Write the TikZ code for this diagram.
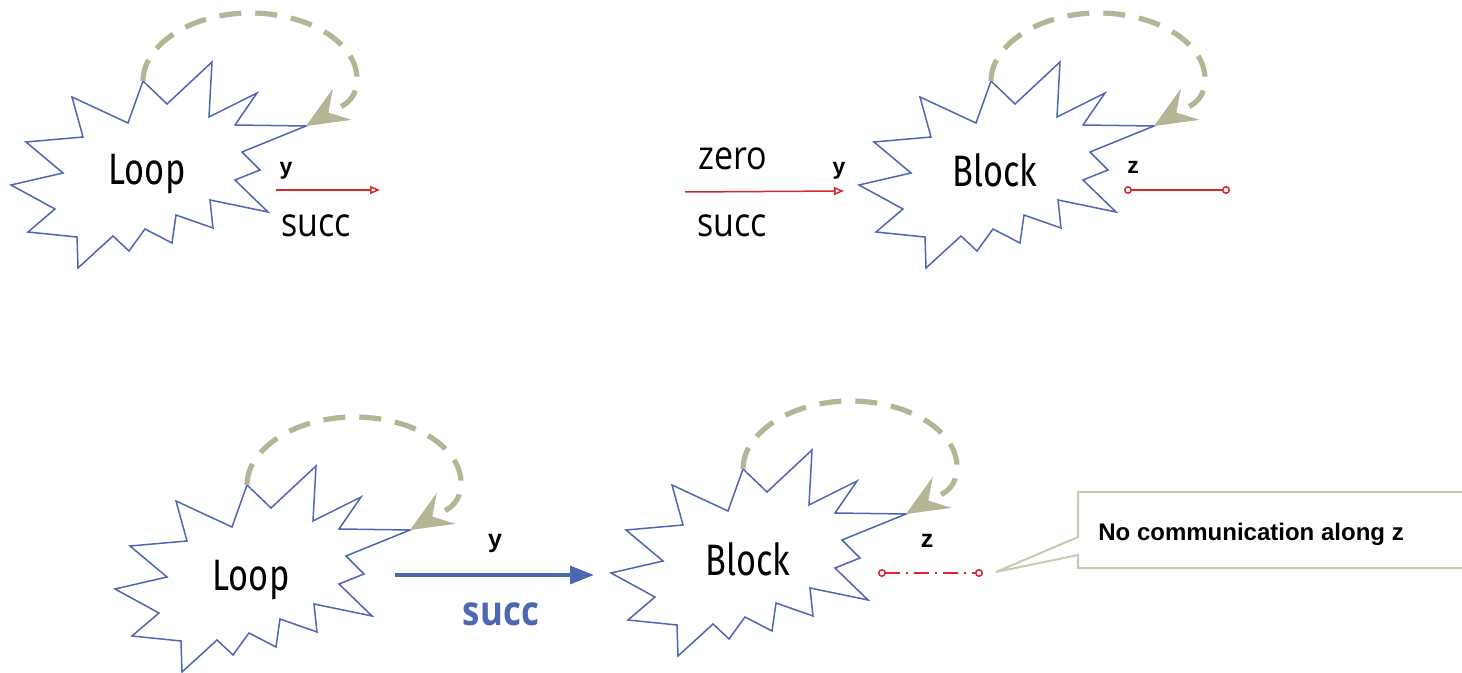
\documentclass[tikz,border=0pt]{standalone}
\usepackage{fontspec}
\usetikzlibrary{arrows.meta}
\setmainfont{Liberation Sans}
\newfontfamily\blockfont[FakeStretch=0.78]{Fira Sans}
\newfontfamily\wordfont[FakeStretch=0.85]{Open Sans}
\definecolor{starblue}{HTML}{4D67B0}
\definecolor{khaki}{HTML}{B5B596}
\definecolor{wire}{HTML}{D7262C}
\definecolor{noteline}{HTML}{C9C9B4}
\tikzset{
  burst/.style={draw=starblue,line width=0.75pt,fill=white,line join=miter},
  blocklabel/.style={font=\blockfont\fontsize{22}{26}\selectfont,anchor=base,inner sep=0pt},
  word/.style={font=\wordfont\fontsize{20}{24}\selectfont,anchor=base,inner sep=0pt},
  chan/.style={font=\bfseries\fontsize{11.5}{14}\selectfont,anchor=base,inner sep=0pt},
  selfloop/.style={draw=khaki,line width=2.6pt,dash pattern=on 11pt off 7pt,-{Stealth[length=21pt,width=18pt,inset=8pt]}},
  send/.style={draw=wire,line width=0.75pt,-{Triangle[open,length=5pt,width=4pt]}},
  idle/.style={draw=wire,line width=0.75pt,{Circle[open,length=4pt]}-{Circle[open,length=4pt]}},
  nolink/.style={idle,dash pattern=on 7.5pt off 3pt on 1pt off 3pt},
  flow/.style={draw=starblue,line width=1.7pt,-{Triangle[length=12pt,width=9pt]}},
  calloutline/.style={draw=noteline,line width=1pt},
}
% explosion outline around a centre, with its top spike and right spike named
\newcommand{\burst}[2]{%
  \draw[burst,shift={(#2)}] (-15,-84) coordinate (#1-peak) -- (9,-61) -- (54,-103) -- (51,-48) -- (99,-72) -- (77,-40)
    -- (148,-39) coordinate (#1-tip) -- (84,-13) -- (102,5) -- (77,15) -- (110,47) -- (52,35) -- (55,63) -- (18,50)
    -- (14,78) -- (-13,64) -- (-29,86) -- (-45,71) -- (-80,103) -- (-81,72) -- (-130,67) -- (-103,44) -- (-147,20)
    -- (-95,8) -- (-132,-23) -- (-75,-28) -- (-86,-68) -- (-30,-42) -- cycle;}
% dashed self loop from the top spike round to the right spike
\newcommand{\spin}[1]{%
  \draw[selfloop] (#1-peak) .. controls +(0,-36) and +(-59,0) .. ++(107,-68)
    .. controls +(59,0) and +(0,-36) .. ++(107,66)
    .. controls +(0,26) and +(30,-18) .. (#1-tip);}

\begin{document}
\begin{tikzpicture}[x=0.5pt,y=-0.5pt]
\useasboundingbox (0,0) rectangle (1462,673);

% top row: Loop feeding y, Block reading y
\burst{loopA}{158,165}
\burst{blockA}{1006,165}
\spin{loopA}
\spin{blockA}
\node[blocklabel] (loopA) at (147,185) {Loop};
\node[blocklabel] (blockA) at (995,187) {Block};

\coordinate (yAfrom) at (276,190);
\coordinate (yAto) at (380,190);
\draw[send] (yAfrom) -- (yAto);
\node[chan] (yA) at (286,175) {y};
\node[word] (succA) at (316,237) {succ};

\coordinate (yBfrom) at (685,192);
\coordinate (yBto) at (844,191);
\draw[send] (yBfrom) -- (yBto);
\node[word] (zeroB) at (733,170) {zero};
\node[word] (succB) at (732,237) {succ};
\node[chan] (yB) at (839,175) {y};

\coordinate (zBfrom) at (1124,190);
\coordinate (zBto) at (1230,190);
\draw[idle] (zBfrom) -- (zBto);
\node[chan] (zB) at (1133,174) {z};

% bottom row: Loop and Block joined
\burst{loopC}{262,569}
\burst{blockC}{758,553}
\spin{loopC}
\spin{blockC}
\node[blocklabel] (loopC) at (251,590) {Loop};
\node[blocklabel] (blockC) at (748,575) {Block};

\coordinate (yCfrom) at (395,575);
\coordinate (yCto) at (594,575);
\draw[flow] (yCfrom) -- (yCto);
\node[chan,font=\bfseries\fontsize{12.5}{15}\selectfont] (yC) at (495,547) {y};
\node[word,font=\wordfont\bfseries\fontsize{20.5}{24}\selectfont,text=starblue] (succC) at (501,625) {succ};

\coordinate (zDfrom) at (878,573);
\coordinate (zDto) at (983,573);
\draw[nolink] (zDfrom) -- (zDto);
\node[chan,font=\bfseries\fontsize{12.5}{15}\selectfont] (zD) at (927,547) {z};

% callout
\node[anchor=base west,inner sep=0pt,font=\bfseries\fontsize{12}{14}\selectfont] (note) at (1098,540) {No communication along z};
\coordinate (noteTip) at (996,572);
\draw[calloutline] (1462,492) -- (1078,492) -- (1078,537) -- (noteTip) -- (1078,555) -- (1078,568) -- (1462,568);
\end{tikzpicture}
\end{document}
